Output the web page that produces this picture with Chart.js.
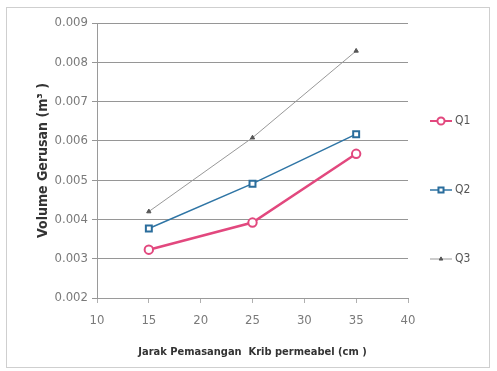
<!DOCTYPE html>
<html>
<head>
<meta charset="utf-8">
<script src="https://cdn.jsdelivr.net/npm/chart.js@4/dist/chart.umd.min.js"></script>
<style>
  html, body { margin: 0; padding: 0; background: #fff; }
  #wrap { width: 497px; height: 371px; }
</style>
</head>
<body>
<div id="wrap"><canvas id="c" width="497" height="371"></canvas></div>
<script>
// Distance of the permeable groyne installation (cm)
const jarak = [15, 25, 35];
// Scour volume (m³) per discharge
const q1 = [0.00323, 0.00392, 0.00567];
const q2 = [0.00377, 0.00491, 0.00617];
const q3 = [0.00420, 0.00608, 0.00829];
const seriesNames = ['Q1', 'Q2', 'Q3'];
const xTicks = [10, 15, 20, 25, 30, 35, 40];
const yTicks = [0.002, 0.003, 0.004, 0.005, 0.006, 0.007, 0.008, 0.009];

const FONT = "'Liberation Sans Narrow', 'DejaVu Sans Condensed', 'Liberation Sans', sans-serif";

const toPoints = vals => vals.map((v, i) => ({ x: jarak[i], y: v }));

// Frame around the whole chart
const framePlugin = {
  id: 'frame',
  beforeDraw(chart) {
    const ctx = chart.ctx;
    ctx.save();
    ctx.fillStyle = '#fff';
    ctx.fillRect(0, 0, chart.width, chart.height);
    ctx.strokeStyle = '#cfcfcf';
    ctx.lineWidth = 1;
    ctx.strokeRect(6.5, 7.5, chart.width - 14, chart.height - 11);
    ctx.restore();
  }
};

// Legend on the right: a short line with the series marker, then its name
const sideLegend = {
  id: 'sideLegend',
  afterDraw(chart) {
    const ctx = chart.ctx;
    const x0 = chart.chartArea.right + 22;
    const gap = 69;
    const midY = 190;
    chart.data.datasets.forEach((ds, i) => {
      const y = midY + (i - 1) * gap;
      ctx.save();
      ctx.strokeStyle = ds.borderColor;
      ctx.lineWidth = Math.min(ds.borderWidth, 2);
      ctx.beginPath();
      ctx.moveTo(x0, y);
      ctx.lineTo(x0 + 22, y);
      ctx.stroke();
      ctx.fillStyle = ds.pointBackgroundColor;
      ctx.strokeStyle = ds.pointBorderColor;
      ctx.lineWidth = ds.pointBorderWidth;
      Chart.helpers.drawPoint(ctx, {
        pointStyle: ds.pointStyle,
        radius: ds.pointRadius * 0.85,
        borderWidth: ds.pointBorderWidth,
        rotation: 0
      }, x0 + 11, y);
      ctx.fillStyle = '#555';
      ctx.font = '12px ' + FONT;
      ctx.textBaseline = 'middle';
      ctx.textAlign = 'left';
      ctx.fillText(seriesNames[i], x0 + 25, y);
      ctx.restore();
    });
  }
};

new Chart(document.getElementById('c'), {
  type: 'line',
  data: {
    datasets: [
      {
        label: seriesNames[0],
        data: toPoints(q1),
        borderColor: '#e2487e',
        borderWidth: 2.5,
        pointStyle: 'circle',
        pointRadius: 4.2,
        pointBorderWidth: 2,
        pointBorderColor: '#e2487e',
        pointBackgroundColor: '#fff'
      },
      {
        label: seriesNames[1],
        data: toPoints(q2),
        borderColor: '#2f75a5',
        borderWidth: 1.5,
        pointStyle: 'rect',
        pointRadius: 4.2,
        pointBorderWidth: 2,
        pointBorderColor: '#2a6d9c',
        pointBackgroundColor: '#fff'
      },
      {
        label: seriesNames[2],
        data: toPoints(q3),
        borderColor: '#999',
        borderWidth: 1,
        pointStyle: 'triangle',
        pointRadius: 2.5,
        pointBorderWidth: 1,
        pointBorderColor: '#555',
        pointBackgroundColor: '#555'
      }
    ]
  },
  options: {
    responsive: false,
    animation: false,
    devicePixelRatio: 1,
    layout: { padding: { left: 35, right: 89, top: 23, bottom: 12 } },
    plugins: {
      legend: { display: false },
      tooltip: { enabled: false }
    },
    scales: {
      x: {
        type: 'linear',
        min: xTicks[0],
        max: xTicks[xTicks.length - 1],
        afterBuildTicks: s => { s.ticks = xTicks.map(v => ({ value: v })); },
        afterFit: s => { s.height = 61; },
        grid: {
          drawOnChartArea: false,
          drawTicks: true,
          tickLength: 5,
          color: '#b0b0b0'
        },
        border: { color: '#9a9a9a' },
        ticks: {
          color: '#7a7a7a',
          padding: 10,
          font: { family: FONT, size: 13 }
        },
        title: {
          display: true,
          text: 'Jarak Pemasangan  Krib permeabel (cm )',
          color: '#333',
          padding: 0,
          font: { family: FONT, size: 11, weight: 'bold' }
        }
      },
      y: {
        min: yTicks[0],
        max: yTicks[yTicks.length - 1],
        afterBuildTicks: s => { s.ticks = yTicks.map(v => ({ value: v })); },
        afterFit: s => { s.width = 62; },
        grid: {
          color: '#969696',
          lineWidth: 1,
          drawTicks: true,
          tickLength: 5
        },
        border: { color: '#9a9a9a' },
        ticks: {
          color: '#7a7a7a',
          padding: 4,
          font: { family: FONT, size: 13 },
          callback: v => v.toFixed(3)
        },
        title: {
          display: true,
          text: 'Volume Gerusan (m³ )',
          color: '#333',
          padding: 0,
          font: { family: FONT, size: 14, weight: 'bold' }
        }
      }
    }
  },
  plugins: [framePlugin, sideLegend]
});
</script>
</body>
</html>
